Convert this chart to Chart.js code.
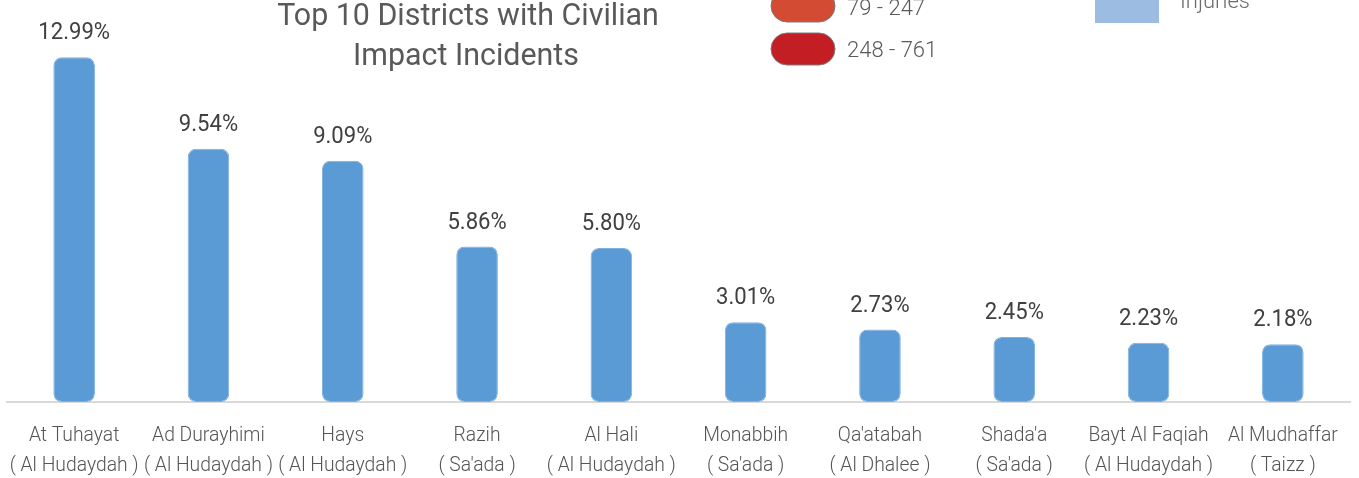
<!DOCTYPE html>
<html>
<head>
<meta charset="utf-8">
<script src="https://cdn.jsdelivr.net/npm/chart.js@4.4.1/dist/chart.umd.min.js"></script>
<style>
    body { margin: 0; background: #fff; }
    #wrap { width: 1359px; height: 478px; position: relative; }
</style>
</head>
<body>
<div id="wrap"><canvas id="chart"></canvas></div>
<script>
let districts = ['At Tuhayat', 'Ad Durayhimi', 'Hays', 'Razih', 'Al Hali', 'Monabbih', "Qa'atabah", "Shada'a", 'Bayt Al Faqiah', 'Al Mudhaffar']
let governorates = ['Al Hudaydah', 'Al Hudaydah', 'Al Hudaydah', "Sa'ada", 'Al Hudaydah', "Sa'ada", 'Al Dhalee', "Sa'ada", 'Al Hudaydah', 'Taizz']
let shares = [12.99, 9.54, 9.09, 5.86, 5.80, 3.01, 2.73, 2.45, 2.23, 2.18]

let titleLines = ['Top 10 Districts with Civilian', 'Impact Incidents']
let rangeLabels = ['79 - 247', '248 - 761']
let rangeColors = ['#d24b32', '#c41e25']
let injuryLabel = 'Injuries'

let textGray = '#595959'

// draws text squeezed horizontally, the source uses a condensed face
function narrowText(ctx, text, x, y, sx, align) {
    ctx.save()
    ctx.translate(x, y)
    ctx.scale(sx, 1)
    ctx.textAlign = align || 'center'
    ctx.fillText(text, 0, 0)
    ctx.restore()
}

function pill(ctx, x, y, w, h, color) {
    ctx.beginPath()
    ctx.roundRect(x, y, w, h, h / 2)
    ctx.fillStyle = color
    ctx.fill()
    ctx.lineWidth = 1
    ctx.strokeStyle = '#7a7a7a'
    ctx.stroke()
}

let decorations = {
    id: 'decorations',
    afterDraw(chart) {
        let ctx = chart.ctx
        let xScale = chart.scales.x
        let meta = chart.getDatasetMeta(0)
        ctx.save()
        ctx.textBaseline = 'alphabetic'

        // value labels above the bars
        ctx.font = '400 23px Roboto'
        ctx.fillStyle = '#404040'
        meta.data.forEach((bar, i) => {
            narrowText(ctx, shares[i].toFixed(2) + '%', bar.x, bar.y - 18, 0.96)
        })

        // two line category labels
        ctx.font = '300 21px Roboto'
        ctx.fillStyle = '#555555'
        districts.forEach((d, i) => {
            let x = xScale.getPixelForValue(i)
            narrowText(ctx, d, x, 441, 0.92)
            narrowText(ctx, '( ' + governorates[i] + ' )', x, 471, 0.92)
        })

        // title
        ctx.font = '400 31px Roboto'
        ctx.fillStyle = textGray
        narrowText(ctx, titleLines[0], 468, 25, 0.98)
        narrowText(ctx, titleLines[1], 466, 65, 0.98)

        // legend pieces cut by the top edge
        pill(ctx, 771, -10, 64, 32, rangeColors[0])
        pill(ctx, 771, 33, 64, 32, rangeColors[1])
        ctx.font = '300 22px Roboto'
        ctx.fillStyle = textGray
        narrowText(ctx, rangeLabels[0], 847, 15, 1, 'left')
        narrowText(ctx, rangeLabels[1], 847, 57, 1, 'left')

        ctx.fillStyle = '#9dbce2'
        ctx.fillRect(1095, -20, 64, 43)
        ctx.font = '300 22px Roboto'
        ctx.fillStyle = '#6b6b6b'
        narrowText(ctx, injuryLabel, 1180, 8, 1, 'left')
        ctx.restore()
    }
}

new Chart(document.getElementById('chart').getContext('2d'), {
    type: 'bar',
    data: {
        labels: districts,
        datasets: [{
            data: shares,
            backgroundColor: '#5b9bd5',
            borderColor: '#7fb0e0',
            borderWidth: 1,
            borderRadius: 8,
            borderSkipped: false,
            barPercentage: 0.62,
            categoryPercentage: 0.5
        }]
    },
    options: {
        responsive: true,
        maintainAspectRatio: false,
        animation: false,
        layout: {
            padding: { top: 4, left: 7, right: 9, bottom: 68 }
        },
        plugins: {
            legend: { display: false },
            tooltip: { enabled: false }
        },
        scales: {
            x: {
                grid: { display: false },
                border: { display: true, color: '#d9d9d9', width: 2 },
                ticks: { display: false }
            },
            y: {
                display: false,
                min: 0,
                max: 15
            }
        }
    },
    plugins: [decorations]
})
</script>
</body>
</html>
